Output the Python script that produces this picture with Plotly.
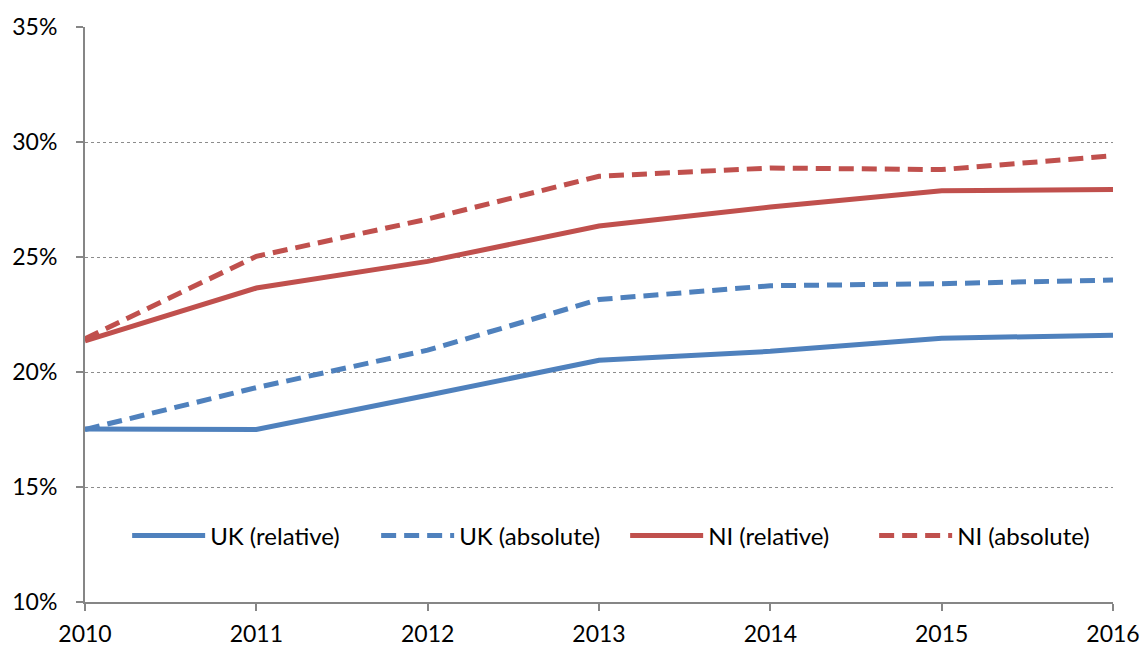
import plotly.graph_objects as go

years = [2010, 2011, 2012, 2013, 2014, 2015, 2016]
uk_relative = [17.52, 17.5, 18.99, 20.51, 20.9, 21.47, 21.6]
uk_absolute = [17.5, 19.32, 20.95, 23.15, 23.75, 23.84, 24.0]
ni_relative = [21.35, 23.65, 24.81, 26.35, 27.17, 27.88, 27.94]
ni_absolute = [21.45, 25.03, 26.65, 28.51, 28.87, 28.8, 29.4]

y_ticks = [10, 15, 20, 25, 30, 35]
y_labels = ["10%", "15%", "20%", "25%", "30%", "35%"]

BLUE = "#4F81BD"
RED = "#C0504D"
DASH = "15px,8px"

fig = go.Figure()
fig.add_trace(go.Scatter(x=years, y=uk_relative, mode="lines", name="UK (relative)",
                         line=dict(color=BLUE, width=5)))
fig.add_trace(go.Scatter(x=years, y=uk_absolute, mode="lines", name="UK (absolute)",
                         line=dict(color=BLUE, width=5, dash=DASH)))
fig.add_trace(go.Scatter(x=years, y=ni_relative, mode="lines", name="NI (relative)",
                         line=dict(color=RED, width=5)))
fig.add_trace(go.Scatter(x=years, y=ni_absolute, mode="lines", name="NI (absolute)",
                         line=dict(color=RED, width=5, dash=DASH)))

fig.update_layout(
    width=1142, height=646,
    margin=dict(l=85, r=29, t=27, b=44, autoexpand=False),
    paper_bgcolor="white", plot_bgcolor="white",
    font=dict(family="Lato, 'Open Sans', sans-serif", size=23, color="#000000"),
    showlegend=True,
    legend=dict(orientation="h", x=0.041, xanchor="left", y=0.115, yanchor="middle",
                bgcolor="rgba(0,0,0,0)", font=dict(size=24), itemwidth=73,
                entrywidth=161),
)
fig.update_xaxes(
    range=[2010, 2016], tickvals=years, ticktext=[str(y) for y in years],
    showgrid=False, showline=True, linecolor="#868686", linewidth=2,
    ticks="outside", ticklen=7, tickcolor="#868686", tickwidth=2,
    ticklabelstandoff=3, automargin=False,
    zeroline=False, fixedrange=True,
)
fig.update_yaxes(
    range=[10, 35], tickvals=y_ticks, ticktext=y_labels,
    showgrid=True, gridcolor="#8c8c8c", gridwidth=1, griddash="dot",
    showline=True, linecolor="#868686", linewidth=2,
    ticks="outside", ticklen=7, tickcolor="#868686", tickwidth=2,
    ticklabelstandoff=14, automargin=False,
    zeroline=False, fixedrange=True,
)

fig.write_html(
    "out.html",
    config={"displayModeBar": False},
    post_script="document.body.style.margin='0';document.body.style.overflow='hidden';",
)
